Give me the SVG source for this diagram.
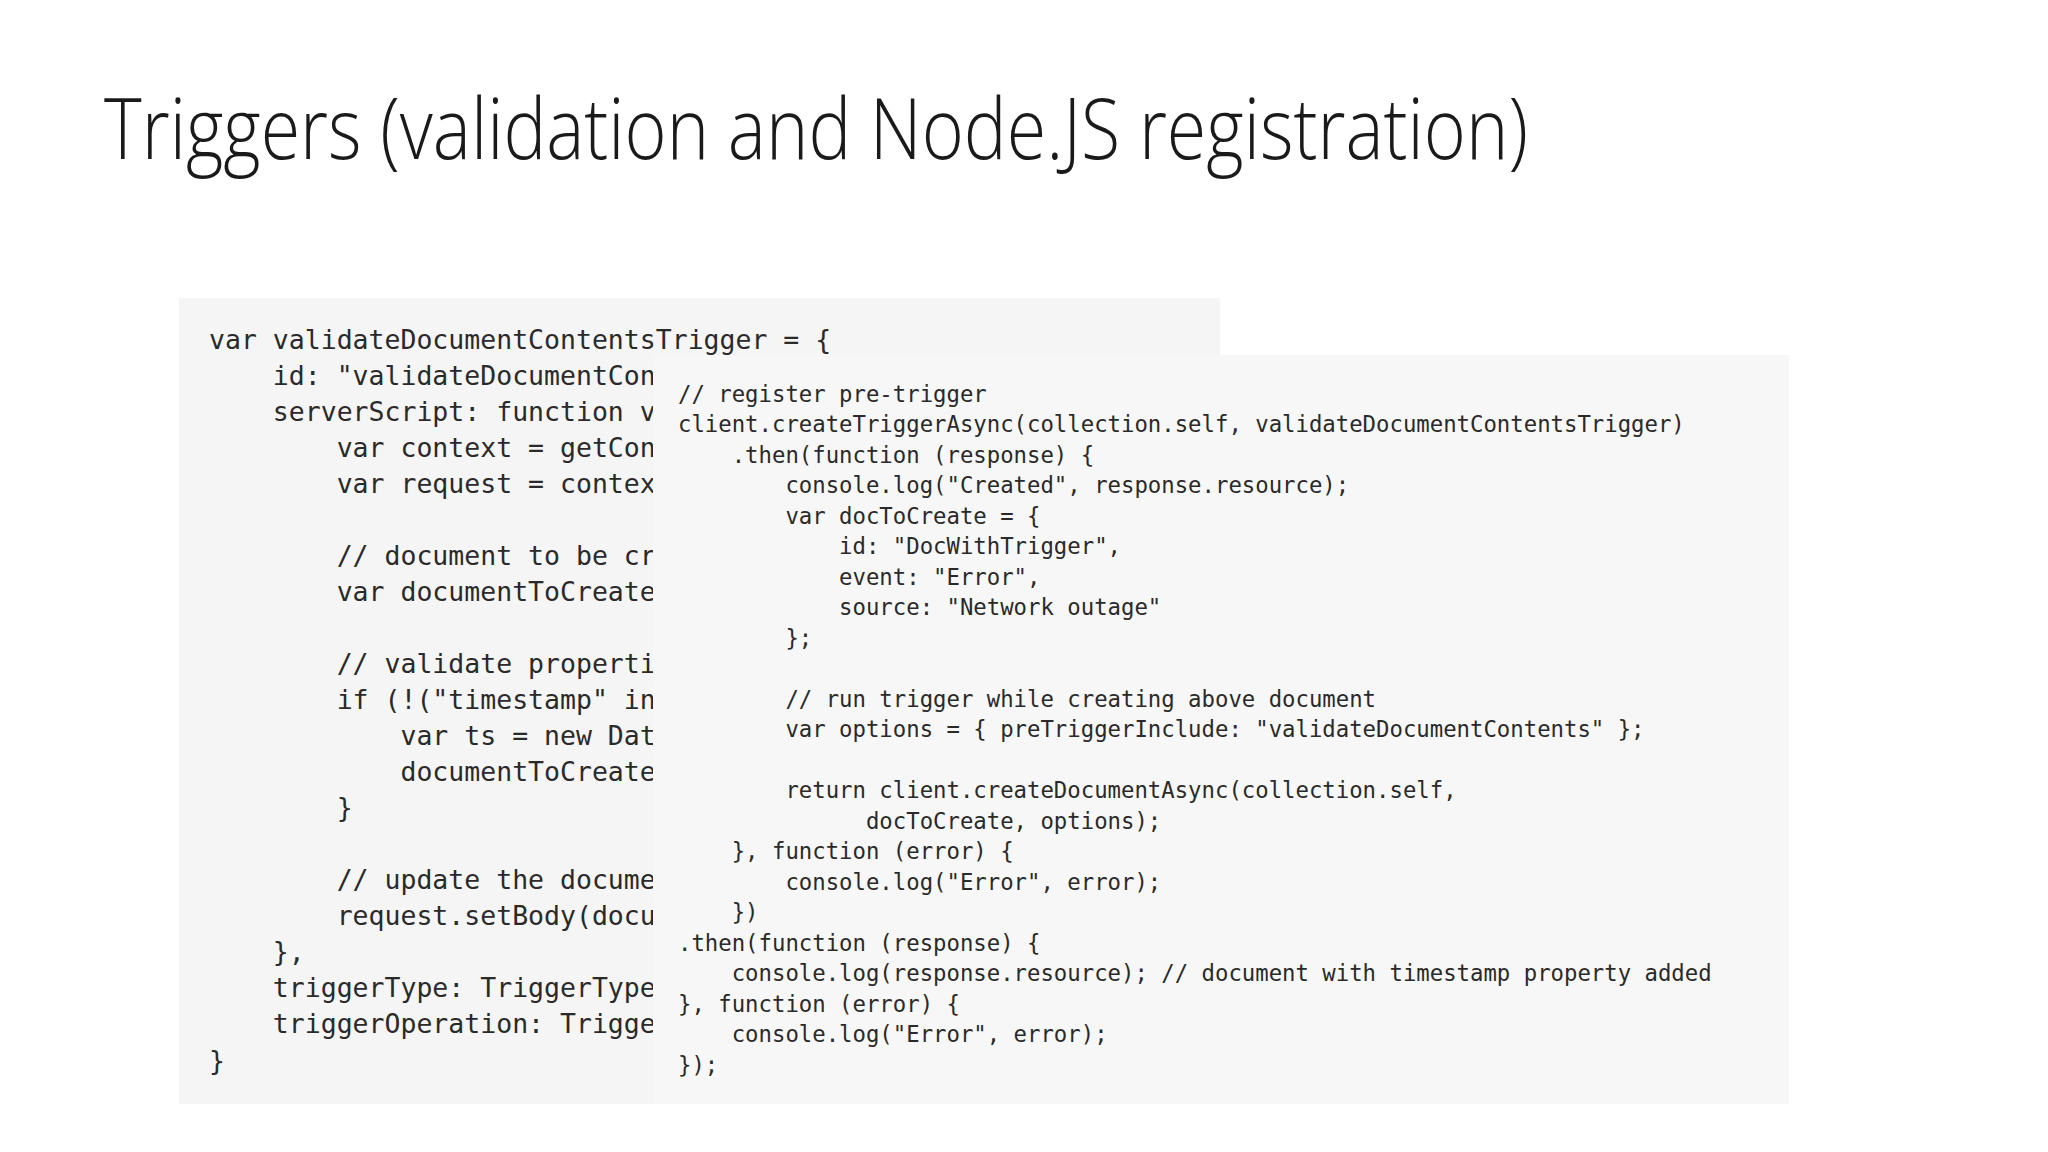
<svg xmlns="http://www.w3.org/2000/svg" width="2048" height="1152" viewBox="0 0 2048 1152">
<style>
.t{font-family:"Open Sans","Liberation Sans",sans-serif;font-weight:300;font-size:84px;fill:#1a1a1a}
.l{font-family:"DejaVu Sans Mono","Liberation Mono",monospace;font-size:26.5px;fill:#2a2a2a;white-space:pre}
.r{font-family:"DejaVu Sans Mono","Liberation Mono",monospace;font-size:22.3px;fill:#2a2a2a;white-space:pre}
</style>
<rect width="2048" height="1152" fill="#fff"/>
<text id="title" class="t" x="104" y="159" textLength="1424" lengthAdjust="spacingAndGlyphs">Triggers (validation and Node.JS registration)</text>
<g id="left">
<rect x="179" y="298" width="1041" height="806" fill="#f5f5f5"/>
<text class="l" x="209" xml:space="preserve">
<tspan x="209" y="349">var validateDocumentContentsTrigger = {</tspan>
<tspan x="209" y="385">    id: "validateDocumentCon</tspan>
<tspan x="209" y="421">    serverScript: function v</tspan>
<tspan x="209" y="457">        var context = getCon</tspan>
<tspan x="209" y="493">        var request = contex</tspan>
<tspan x="209" y="565">        // document to be cr</tspan>
<tspan x="209" y="601">        var documentToCreate</tspan>
<tspan x="209" y="673">        // validate properti</tspan>
<tspan x="209" y="709">        if (!("timestamp" in</tspan>
<tspan x="209" y="745">            var ts = new Dat</tspan>
<tspan x="209" y="781">            documentToCreate</tspan>
<tspan x="209" y="817">        }</tspan>
<tspan x="209" y="889">        // update the docume</tspan>
<tspan x="209" y="925">        request.setBody(docu</tspan>
<tspan x="209" y="961">    },</tspan>
<tspan x="209" y="997">    triggerType: TriggerType</tspan>
<tspan x="209" y="1033">    triggerOperation: Trigge</tspan>
<tspan x="209" y="1070">}</tspan>
</text>
</g>
<g id="right">
<rect x="653" y="355" width="1136" height="749" fill="#f7f7f7"/>
<text class="r" xml:space="preserve">
<tspan x="678" y="402">// register pre-trigger</tspan>
<tspan x="678" y="432">client.createTriggerAsync(collection.self, validateDocumentContentsTrigger)</tspan>
<tspan x="678" y="463">    .then(function (response) {</tspan>
<tspan x="678" y="493">        console.log("Created", response.resource);</tspan>
<tspan x="678" y="524">        var docToCreate = {</tspan>
<tspan x="678" y="554">            id: "DocWithTrigger",</tspan>
<tspan x="678" y="585">            event: "Error",</tspan>
<tspan x="678" y="615">            source: "Network outage"</tspan>
<tspan x="678" y="646">        };</tspan>
<tspan x="678" y="707">        // run trigger while creating above document</tspan>
<tspan x="678" y="737">        var options = { preTriggerInclude: "validateDocumentContents" };</tspan>
<tspan x="678" y="798">        return client.createDocumentAsync(collection.self,</tspan>
<tspan x="678" y="829">              docToCreate, options);</tspan>
<tspan x="678" y="859">    }, function (error) {</tspan>
<tspan x="678" y="890">        console.log("Error", error);</tspan>
<tspan x="678" y="920">    })</tspan>
<tspan x="678" y="951">.then(function (response) {</tspan>
<tspan x="678" y="981">    console.log(response.resource); // document with timestamp property added</tspan>
<tspan x="678" y="1012">}, function (error) {</tspan>
<tspan x="678" y="1042">    console.log("Error", error);</tspan>
<tspan x="678" y="1073">});</tspan>
</text>
</g>
</svg>
